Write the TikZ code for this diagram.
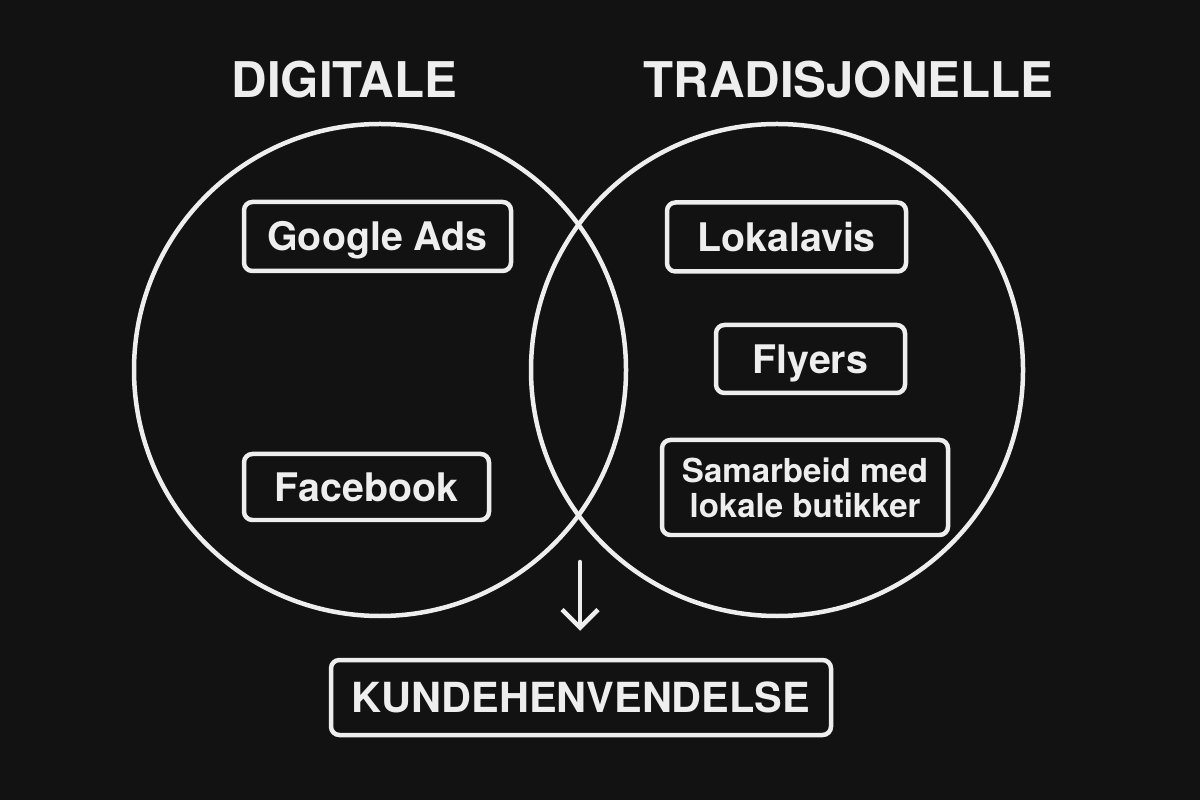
\documentclass[tikz,border=0pt]{standalone}
\usepackage{fontspec}
\setmainfont{TeX Gyre Heros}
\usetikzlibrary{arrows.meta}
\definecolor{bg}{HTML}{121212}
\definecolor{ink}{HTML}{EEEEEE}
\begin{document}
\begin{tikzpicture}[
    frame/.style    = {draw=ink, line width=3.2pt, rounded corners=6pt, text=ink,
                       font=\fontsize{28}{32}\selectfont\bfseries, inner sep=0pt,
                       minimum height=1.725cm},
    box/.style      = {frame, text height=20pt, text depth=0pt},
    ring/.style     = {draw=ink, line width=3.2pt},
    heading/.style  = {text=ink, font=\fontsize{35}{38}\selectfont\bfseries, inner sep=0pt},
    >={Straight Barb[length=0.45cm, width=0.9cm]}
  ]
% background
\fill[bg] (0,0) rectangle (30,20);
% titles
\node[heading] (digitale) at (8.6125,18.0125) {DIGITALE};
\node[heading] (tradisjonelle) at (21.2125,18.0125) {TRADISJONELLE};
% the two circles
\draw[ring] (9.5,10.75) circle (6.15);
\draw[ring] (19.425,10.75) circle (6.15);
% digital channels
\node[box, minimum width=6.675cm] (google) at (9.4375,14.0875) {Google Ads};
\node[box, minimum width=6.125cm, minimum height=1.65cm] (facebook) at (9.1625,7.825) {Facebook};
% traditional channels
\node[box, minimum width=5.975cm] (lokalavis) at (19.6625,14.075) {Lokalavis};
\node[box, minimum width=4.725cm, minimum height=1.7cm] (flyers) at (20.2625,11.025) {Flyers};
\node[frame, align=center, minimum width=7.15cm, minimum height=2.375cm,
      font=\fontsize{23.5}{25}\selectfont\bfseries]
      (samarbeid) at (20.125,7.8125) {Samarbeid med\\lokale butikker};
% result
\node[box, minimum width=12.5cm, minimum height=1.875cm,
      font=\fontsize{29.5}{32}\selectfont\bfseries, text height=21.2pt]
      (kunde) at (14.525,2.5625) {KUNDEHENVENDELSE};
\coordinate (overlap) at (14.5,5.95);
\draw[->, ink, line width=3.2pt, line cap=round, line join=round, shorten >=0.675cm]
  (overlap) -- (overlap |- kunde.north);
%
\end{tikzpicture}
\end{document}
